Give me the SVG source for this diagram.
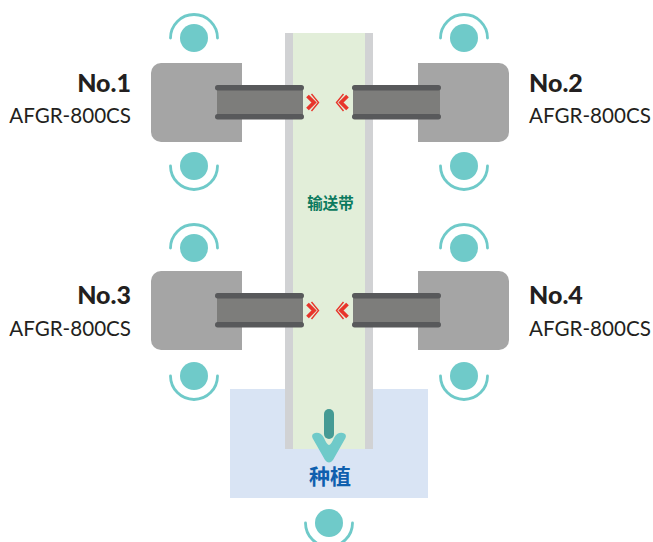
<svg xmlns="http://www.w3.org/2000/svg" width="653" height="542" viewBox="0 0 653 542">
<style>
.dot{fill:#6fcac9}
.ring{fill:none;stroke:#6fcac9;stroke-width:2.8;stroke-linecap:round}
.block{fill:#a5a5a5}
.arm{fill:#7d7d7b}
.bar{fill:#58595b}
.chev{fill:none;stroke:#e8352b;stroke-linejoin:miter}
.no{font:900 25px Lato,"Liberation Sans",sans-serif;fill:#231f20}
.model{font:400 20.6px Lato,"Liberation Sans",sans-serif;fill:#231f20}
</style>
<defs>
<g id="up"><circle class="dot" cx="0" cy="0" r="14"/><path class="ring" d="M-23.500 0A23.500 23.500 0 0 1 23.500 0"/></g>
<g id="down"><circle class="dot" cx="0" cy="0" r="14"/><path class="ring" d="M-23.500 0A23.500 23.500 0 0 0 23.500 0"/></g>
<g id="armL">
<path class="block" d="M161 63H242V142H161A10 10 0 0 1 151 132V73A10 10 0 0 1 161 63Z"/>
<rect class="arm" x="217" y="88" width="86" height="29"/>
<rect class="bar" x="215" y="85" width="89" height="5.5" rx="2.7"/>
<rect class="bar" x="215" y="114" width="89" height="5.5" rx="2.7"/>
<path class="chev" stroke-width="3.8" d="M307.500 96L314 102.500L307.500 109"/>
<path class="chev" stroke-width="1.4" d="M311.500 94L318.500 102.500L311.500 111"/>
</g>
<g id="armR">
<path class="block" d="M418 63H499A10 10 0 0 1 509 73V132A10 10 0 0 1 499 142H418Z"/>
<rect class="arm" x="353" y="88" width="87" height="29"/>
<rect class="bar" x="352" y="85" width="89" height="5.5" rx="2.7"/>
<rect class="bar" x="352" y="114" width="89" height="5.500" rx="2.7"/>
<path class="chev" stroke-width="3.8" d="M347.500 96L341 102.500L347.500 109"/>
<path class="chev" stroke-width="1.4" d="M343.500 94L336.500 102.500L343.500 111"/>
</g>
</defs>
<g id="planting-zone"><rect x="230" y="389" width="198" height="109" fill="#d9e4f4"/></g>
<g id="conveyor">
<rect x="285" y="33" width="88" height="416" fill="#d1d2d4"/>
<rect x="293" y="33" width="72" height="416" fill="#e2eed9"/>
<text x="330.500" y="209" text-anchor="middle" font-family="'Noto Sans CJK SC',sans-serif" font-size="15.500" font-weight="700" fill="#0b7a5e">输送带</text>
</g>
<g id="no1">
<use href="#armL"/><use href="#up" x="194" y="38"/><use href="#down" x="194" y="166"/>
<text class="no" x="131" y="92" text-anchor="end">No.1</text>
<text class="model" x="131" y="122.500" text-anchor="end">AFGR-800CS</text>
</g>
<g id="no2">
<use href="#armR"/><use href="#up" x="464" y="38"/><use href="#down" x="464" y="166"/>
<text class="no" x="529" y="92">No.2</text>
<text class="model" x="529" y="122.500">AFGR-800CS</text>
</g>
<g id="no3">
<use href="#armL" y="208"/><use href="#up" x="194" y="248"/><use href="#down" x="194" y="376"/>
<text class="no" x="131" y="304" text-anchor="end">No.3</text>
<text class="model" x="131" y="335.500" text-anchor="end">AFGR-800CS</text>
</g>
<g id="no4">
<use href="#armR" y="208"/><use href="#up" x="464" y="248"/><use href="#down" x="464" y="376"/>
<text class="no" x="529" y="304">No.4</text>
<text class="model" x="529" y="335.500">AFGR-800CS</text>
</g>
<g id="planting">
<path d="M315 433Q321 432 324 438Q327 445 329 445Q331 445 334 438Q337 432 343 433Q347 434 345.500 438L333 460Q329 465 325 460L312.500 438Q311 434 315 433Z" fill="#6fcac9"/>
<rect x="324" y="409" width="10" height="30" rx="5" fill="#459a94"/>
<text x="330" y="484" text-anchor="middle" font-family="'Noto Sans CJK SC',sans-serif" font-size="21" font-weight="700" fill="#0f5fae">种植</text>
<use href="#down" x="329" y="523"/>
</g>
<g id="connectors"/>
</svg>
